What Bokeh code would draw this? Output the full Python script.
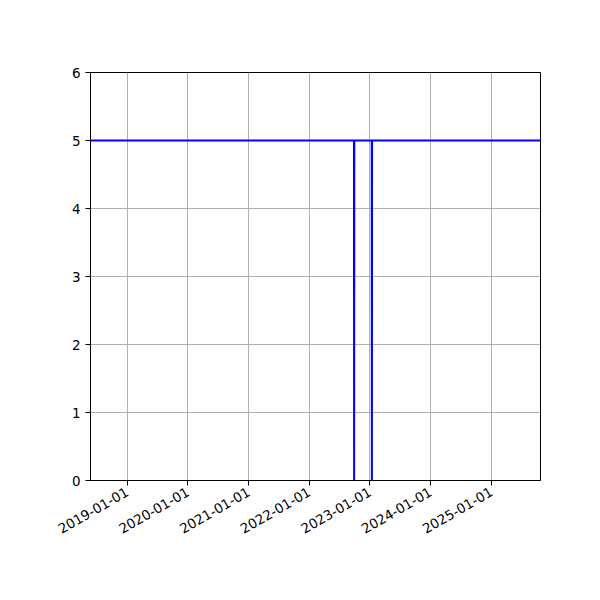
import math
from datetime import datetime
from bokeh.plotting import figure
from bokeh.models import FixedTicker, DatetimeTickFormatter, Range1d, ColumnDataSource
from bokeh.embed import file_html
from bokeh.resources import INLINE

# data
dates = ["2018-05-25", "2022-09-27", "2022-09-28", "2022-09-29",
         "2023-01-12", "2023-01-13", "2023-01-14", "2025-10-24"]
values = [5, 5, 0, 5, 5, 0, 5, 5]
tick_labels = ["2019-01-01", "2020-01-01", "2021-01-01", "2022-01-01",
               "2023-01-01", "2024-01-01", "2025-01-01"]
y_ticks = [0, 1, 2, 3, 4, 5, 6]

def to_ms(s):
    return (datetime.strptime(s, "%Y-%m-%d") - datetime(1970, 1, 1)).total_seconds() * 1000

xs = [to_ms(d) for d in dates]
src = ColumnDataSource(dict(x=xs, y=values))

p = figure(width=600, height=600, x_axis_type="datetime",
           output_backend="svg", toolbar_location=None,
           x_range=Range1d(xs[0], xs[-1]), y_range=Range1d(0, 6),
           min_border_left=90, min_border_right=60,
           min_border_top=72, min_border_bottom=120)

p.line("x", "y", source=src, line_color="#0000ff", line_width=2)

p.xaxis.ticker = FixedTicker(ticks=[to_ms(t) for t in tick_labels])
p.xaxis.formatter = DatetimeTickFormatter(days="%Y-%m-%d", months="%Y-%m-%d", years="%Y-%m-%d")
p.xaxis.major_label_orientation = math.pi / 6
p.yaxis.ticker = FixedTicker(ticks=y_ticks)

for ax in (p.xaxis, p.yaxis):
    ax.major_label_text_font = "DejaVu Sans"
    ax.major_label_text_font_size = "13.5px"
    ax.major_label_text_color = "black"
    ax.axis_line_color = "black"
    ax.major_tick_line_color = "black"
    ax.major_tick_out = 5
    ax.major_tick_in = 0
    ax.minor_tick_line_color = None

p.outline_line_color = "black"
p.outline_line_width = 1
p.grid.grid_line_color = "#b0b0b0"
p.grid.grid_line_width = 1
p.background_fill_color = "white"
p.border_fill_color = "white"

open("out.html", "w").write(file_html(p, INLINE))
